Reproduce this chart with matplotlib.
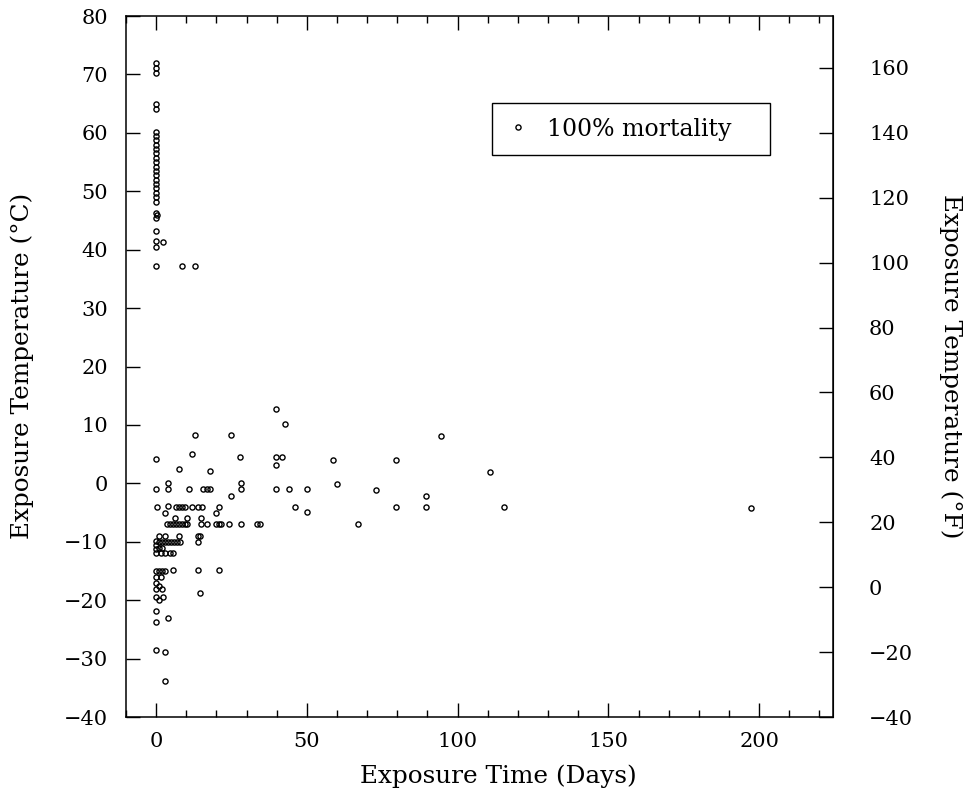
import matplotlib.pyplot as plt
from matplotlib.ticker import MultipleLocator

plt.rcParams['font.family'] = ['DejaVu Serif']

# exposure time (days) and temperature (deg C) at 100% mortality
hot_days = [0, 0, 0, 0, 0,
            0, 0, 0, 0, 0, 0, 0, 0, 0, 0, 0, 0, 0, 0, 0, 0, 0,
            0, 0.4, 0, 0, 0, 0, 2.4, 0, 8.5, 12.9]
hot_temps = [72.0, 71.1, 70.2, 64.9, 64.1,
             60.2, 59.4, 58.7, 58.0, 57.2, 56.5, 55.7, 55.0, 54.2, 53.5, 52.7, 52.0, 51.2, 50.5, 49.7, 49.0, 48.2,
             46.3, 46.0, 45.4, 43.2, 41.5, 40.5, 41.3, 37.2, 37.2, 37.2]

cold_days = [12.9, 24.8, 0, 11.8, 7.7, 18, 27.9, 39.7, 42.9, 39.8, 41.9, 39.8, 58.7, 79.6, 94.6, 110.6,
             0, 4.1, 4.1, 11, 15.7, 16.8, 17.9, 24.8, 28.1, 28.1, 39.9, 44, 50, 59.9, 72.9, 89.6,
             0.2, 4.1, 3, 6.5, 7.5, 8.5, 9.5, 11.8, 14, 15.1, 21, 19.9, 45.9, 49.9, 79.6, 89.6, 115.5, 197.4,
             6.3, 10.2, 14.9,
             3.5, 4.5, 5.5, 6.5, 7.5, 8.5, 9.5, 10.2, 14.9, 16.8, 19.9, 20.8, 21.4, 24.2, 28.1, 33.3, 34.3, 67.0,
             0.8, 3, 7.7, 13.8, 14.6,
             0, 0, 0, 0, 1, 2, 3, 4, 5, 6, 7, 8, 1, 2, 1.5, 3, 4.5, 5.5, 13.8,
             0, 1, 2, 3, 0, 1.5, 0, 1, 0, 2, 0, 1, 2.3, 5.7, 13.8, 20.9, 14.6,
             0, 0, 3.9, 0, 2.8, 2.8]
cold_temps = [8.3, 8.2, 4.2, 5.1, 2.5, 2.1, 4.5, 12.75, 10.2, 4.5, 4.5, 3.2, 4.0, 4.0, 8.1, 1.9,
              -1, 0, -1, -1, -1, -1, -1, -2.1, 0, -1, -1, -1, -1, -0.1, -1.1, -2.2,
              -4, -3.8, -5, -4, -4, -4, -4, -4, -4, -4, -4, -5, -4, -4.9, -4.1, -4.1, -4, -4.2,
              -5.9, -5.9, -5.9,
              -7, -7, -7, -7, -7, -7, -7, -7, -7, -7, -7, -7, -7, -7, -7, -7, -7, -7,
              -9, -9, -9, -9, -9,
              -9.8, -10.5, -11.3, -12, -10, -10, -10, -10, -10, -10, -10, -10, -11, -11, -12, -12, -12, -12, -10.1,
              -15, -15, -15, -15, -16, -16, -17, -17.5, -18, -18, -19.5, -20, -19.5, -14.9, -14.9, -14.9, -18.8,
              -21.9, -23.8, -23, -28.5, -28.8, -33.9]

days = hot_days + cold_days
temps = hot_temps + cold_temps

fig = plt.figure(figsize=(9.66, 7.93), dpi=100)
ax = fig.add_axes([0.1304, 0.0958, 0.7319, 0.884])

ax.plot(days, temps, 'o', ms=3.7, mfc='none', mec='black', mew=1.0, label='100% mortality')

ax.set_xlim(-10, 224.5)
ax.set_ylim(-40, 80)
ax.xaxis.set_major_locator(MultipleLocator(50))
ax.xaxis.set_minor_locator(MultipleLocator(10))
ax.yaxis.set_major_locator(MultipleLocator(10))
ax.tick_params(which='both', direction='in', top=True, right=False, labelsize=15, width=1)
ax.tick_params(which='major', length=10)
ax.tick_params(which='minor', length=5)
ax.tick_params(axis='y', pad=13)
ax.tick_params(axis='x', pad=11)
for s in ax.spines.values():
    s.set_linewidth(1.1)

# Fahrenheit scale on the right
secax = ax.secondary_yaxis('right', functions=(lambda c: c * 9 / 5 + 32, lambda f: (f - 32) * 5 / 9))
secax.set_yticks(range(-40, 161, 20))
secax.tick_params(direction='in', length=10, width=1, labelsize=15, pad=26)

fig.text(498 / 966, 1 - 783 / 793, 'Exposure Time (Days)', fontsize=17.8, ha='center', va='baseline')
fig.text(22 / 966, 1 - 366 / 793, 'Exposure Temperature (°C)', fontsize=17.8, rotation=90,
         ha='center', va='center')
fig.text(951 / 966, 1 - 366 / 793, 'Exposure Temperature (°F)', fontsize=17.8, rotation=270,
         ha='center', va='center')

leg = ax.legend(loc='upper left', mode='expand',
                bbox_to_anchor=(492 / 966, 1 - 157 / 793, 278 / 966, 54 / 793), bbox_transform=fig.transFigure,
                fancybox=False, edgecolor='black', framealpha=1, fontsize=17, borderpad=0.62,
                handlelength=1.0, handletextpad=0.7, borderaxespad=0)
leg.get_frame().set_linewidth(1.0)

fig.savefig('out.png', dpi=100)
